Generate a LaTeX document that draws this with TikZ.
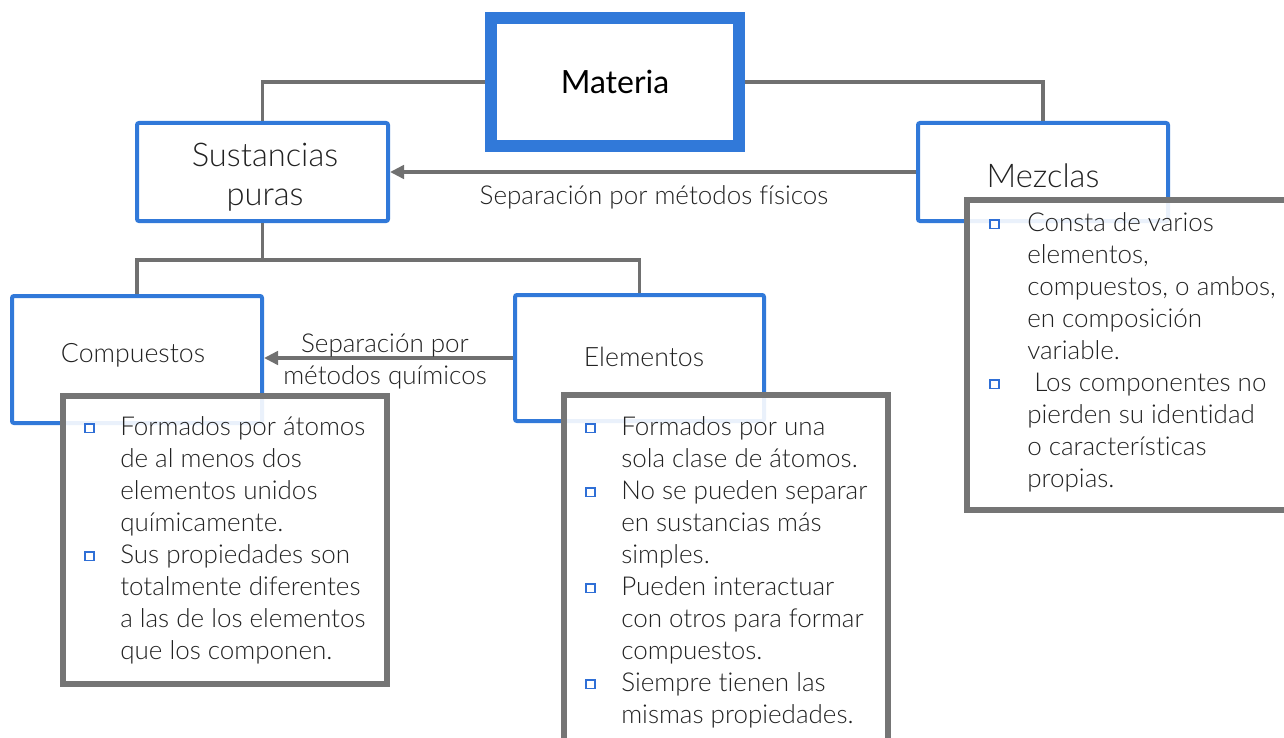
\documentclass[tikz,border=0pt]{standalone}
\usepackage{fontspec}
\setmainfont{Lato Light}[Ligatures={NoCommon}]
\newfontfamily\latoreg{Lato}
\usetikzlibrary{arrows.meta}
\definecolor{bblue}{HTML}{3179D9}
\definecolor{ggray}{HTML}{757575}
\definecolor{cgray}{HTML}{707070}
\definecolor{txtc}{HTML}{222222}
\definecolor{bul}{HTML}{2F6FD6}
\newcommand\sqb{\raisebox{0.12em}{\fboxsep=0pt\fboxrule=1.2pt\fcolorbox{bul}{white}{\rule{0pt}{5.5pt}\rule{5.5pt}{0pt}}}}
\begin{document}
\begin{tikzpicture}[x=0.75pt,y=-0.75pt,
  bluebox/.style={draw=bblue, line width=3pt, rounded corners=1.5pt, fill=white, inner sep=0pt},
  htxt/.style={text=txtc, font=\fontsize{24.5}{29}\selectfont, align=center, inner sep=0pt},
  conn/.style={draw=cgray, line width=2.6pt},
  arr/.style={conn, -{Triangle[length=10.5pt,width=10pt]}},
  graybox/.style={draw=ggray, line width=4.5pt, fill=white, fill opacity=0.9, inner sep=0pt},
  lbl/.style={text=txtc, font=\fontsize{19.5}{24}\selectfont, inner sep=0pt},
  btxt/.style={text=txtc, font=\fontsize{19.5}{24}\selectfont, inner sep=0pt, anchor=base west}]
\useasboundingbox (0,0) rectangle (1284,738);
\fill[white] (0,0) rectangle (1284,738);
% blue boxes
\node[bluebox, line width=9pt, rounded corners=0pt, minimum width=186pt, minimum height=96pt, text=black, font=\latoreg\fontsize{24}{29}\selectfont] (mat) at (615,82) {Materia};
\node[bluebox, minimum width=188.25pt, minimum height=73.5pt] (sus) at (262.5,172) {};
\node[bluebox, minimum width=187.5pt, minimum height=73.5pt] (mez) at (1043,172) {};
\node[bluebox, minimum width=187.5pt, minimum height=95.25pt] (comp) at (137,359.5) {};
\node[bluebox, minimum width=186.75pt, minimum height=94.5pt] (elem) at (639.5,358) {};
\node[htxt] (sust) at (265,177) {Sustancias\\puras};
\node[htxt] (mezt) at (1043,176) {Mezclas};
\node[htxt, font=\fontsize{20}{24}\selectfont] (compt) at (133,355) {Compuestos};
\node[htxt, font=\fontsize{20}{24}\selectfont] (elemt) at (644,357) {Elementos};
% tree connectors
\coordinate (j) at (262.5,260);
\draw[conn] (mat.west) -| (sus.north);
\draw[conn] (mat.east) -| (mez.north);
\draw[conn] (sus.south) -- (sus.south |- j);
\draw[conn] (comp.north) -- (comp.north |- j) -- (elem.north |- j) -- (elem.north);
% arrows
\draw[arr] (mez.west) -- (mez.west -| sus.east);
\node[lbl] (l1) at (654,197) {Separación por métodos físicos};
\draw[arr] (elem.west) -- (elem.west -| comp.east);
\node[lbl, align=center] (l2) at (385,361) {Separación por\\métodos químicos};
% gray boxes
\node[graybox, minimum width=243pt, minimum height=216pt] (cg) at (225,540) {};
\node[graybox, minimum width=243pt, minimum height=273.75pt] (eg) at (725.5,577.5) {};
\node[graybox, minimum width=249.75pt, minimum height=232.5pt] (mg) at (1133.5,355) {};
% texts
\node[btxt] (ct) at (84,435) {\begin{tabular}[t]{@{}p{27pt}@{}l@{}}
\sqb & Formados por átomos\\
 & de al menos dos\\
 & elementos unidos\\
 & químicamente.\\
\sqb & Sus propiedades son\\
 & totalmente diferentes\\
 & a las de los elementos\\
 & que los componen.
\end{tabular}};
\node[btxt] (et) at (585,435) {\begin{tabular}[t]{@{}p{27pt}@{}l@{}}
\sqb & Formados por una\\
 & sola clase de átomos.\\
\sqb & No se pueden separar\\
 & en sustancias más\\
 & simples.\\
\sqb & Pueden interactuar\\
 & con otros para formar\\
 & compuestos.\\
\sqb & Siempre tienen las\\
 & mismas propiedades.
\end{tabular}};
\node[btxt] (mt) at (989,231) {\begin{tabular}[t]{@{}p{28.5pt}@{}l@{}}
\sqb & Consta de varios\\
 & elementos,\\
 & compuestos, o ambos,\\
 & en composición\\
 & variable.\\
\sqb & \ Los componentes no\\
 & pierden su identidad\\
 & o características\\
 & propias.
\end{tabular}};
\end{tikzpicture}
\end{document}
